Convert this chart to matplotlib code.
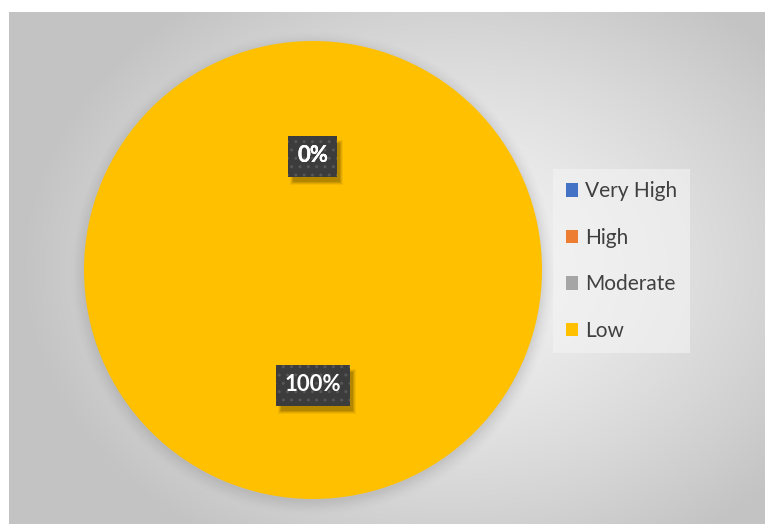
import matplotlib.pyplot as plt
from matplotlib.patches import Rectangle
import numpy as np

categories = ['Very High', 'High', 'Moderate', 'Low']
values = [0, 0, 0, 100]
colors = ['#4472C4', '#ED7D31', '#A5A5A5', '#FFC000']

W, H = 765, 524
fig = plt.figure(figsize=(W / 100, H / 100), dpi=100)
fig.patch.set_facecolor('white')

# chart area with a radial grey gradient
bg = fig.add_axes([9 / W, 0, (W - 9) / W, (H - 12) / H])
bg.set_axis_off()
gx, gy = np.meshgrid(np.arange(9, W), np.arange(12, H))
r = np.sqrt(((gx - 450) / 430) ** 2 + ((gy - 265) / 330) ** 2)
r = np.clip(r, 0, 1)
shade = 0.955 - 0.19 * r ** 1.4
bg.imshow(np.dstack([shade] * 3), aspect='auto', interpolation='bilinear',
          extent=[0, 1, 0, 1])
bg.set_xlim(0, 1)
bg.set_ylim(0, 1)

# pie axes: centre (313, 270), radius 229 px
cx, cy, rad = 313, 270, 229
ax = fig.add_axes([(cx - rad) / W, (H - cy - rad) / H, 2 * rad / W, 2 * rad / H])
ax.set_axis_off()

# soft drop shadow under the pie
for i, a in enumerate(np.linspace(0.05, 0.012, 8)):
    shadow = plt.Circle((0, -0.014), 1.0 + 0.008 * i, color='#808080',
                        alpha=a, zorder=0, lw=0, clip_on=False)
    ax.add_patch(shadow)

wedges, _, pcts = ax.pie(values, colors=colors, startangle=90, counterclock=False,
                         autopct='%1.0f%%', pctdistance=0.5,
                         wedgeprops=dict(linewidth=0))
ax.set_xlim(-1, 1)
ax.set_ylim(-1, 1)
ax.set_aspect('equal')

for t in pcts:
    t.set_color('white')
    t.set_fontsize(16)
    t.set_fontweight('bold')
    t.set_family('Lato')
    t.set_zorder(7)

# dark dotted label boxes with a blurred shadow down-right
fig.canvas.draw()
seen = set()
for t in pcts:
    bb = t.get_window_extent()
    key = (round(bb.x0), round(bb.y0))
    if key in seen:
        continue
    seen.add(key)
    xc, yc = (bb.x0 + bb.x1) / 2, (bb.y0 + bb.y1) / 2 - 1
    bw, bh = bb.width + 18, 41
    x0, y0 = xc - bw / 2, yc - bh / 2
    for grow, al in [(3, 0.08), (2, 0.12), (1, 0.16), (0, 0.22)]:
        ax.add_artist(Rectangle((x0 + 5 - grow, y0 - 5 - grow),
                                bw + 2 * grow - 2, bh + 2 * grow - 2,
                                transform=None, fc='#5e4600', ec='none',
                                alpha=al, zorder=5))
    ax.add_artist(Rectangle((x0, y0), bw, bh, transform=None, fc='#3c3c3c',
                            ec='#565656', lw=0, hatch='..', zorder=6))

leg = fig.legend(wedges, categories, loc='center left',
                 bbox_to_anchor=(553 / W, 1 - 261 / H),
                 frameon=True, fancybox=False,
                 prop=dict(family='Lato', size=15),
                 handlelength=0.6, handleheight=0.6, handletextpad=0.35,
                 labelspacing=1.27, borderpad=0.6, borderaxespad=0)
leg.get_frame().set_facecolor('#f4f4f4')
leg.get_frame().set_alpha(0.6)
leg.get_frame().set_linewidth(0)
for txt in leg.get_texts():
    txt.set_color('#404040')

fig.savefig('out.png', dpi=100)
